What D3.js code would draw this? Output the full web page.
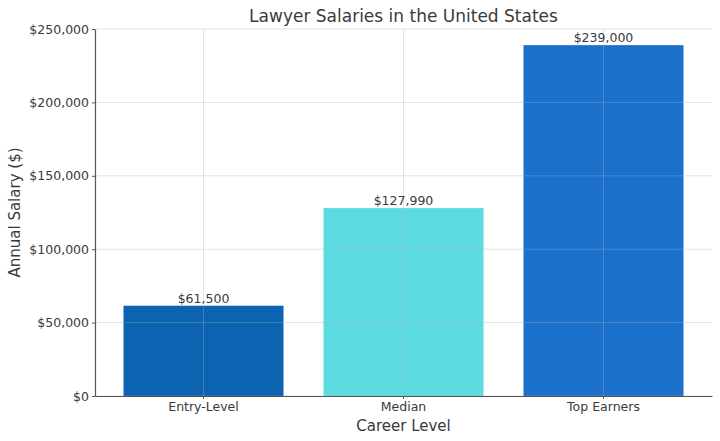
<!DOCTYPE html>
<html>
<head>
<meta charset="utf-8">
<script src="https://cdn.jsdelivr.net/npm/d3@7"></script>
<style>
  body { margin: 0; background: #fff; }
  text { font-family: "DejaVu Sans", sans-serif; fill: #3a3a3a; }
</style>
</head>
<body>
<div id="chart"></div>
<script>
var categories = ["Entry-Level", "Median", "Top Earners"];
var salaries = [61500, 127990, 239000];
var barColors = ["#0b63b1", "#5cdce1", "#1b70cc"];
var yTicks = [0, 50000, 100000, 150000, 200000, 250000];

var svgWidth = 720;
var svgHeight = 441;

var margin = { top: 29, right: 8, bottom: 45, left: 95 };
var width = svgWidth - margin.left - margin.right;
var height = svgHeight - margin.top - margin.bottom;

var svg = d3.select("#chart")
    .append("svg")
    .attr("width", svgWidth)
    .attr("height", svgHeight);

var chartGroup = svg.append("g")
    .attr("transform", `translate(${margin.left}, ${margin.top})`);

var xScale = d3.scaleBand()
    .domain(categories)
    .range([0, width])
    .paddingInner(0.2)
    .paddingOuter(0.1425);

var yScale = d3.scaleLinear()
    .domain([0, 250000])
    .range([height, 0]);

var money = d => "$" + d3.format(",")(d);

// bars first, grid drawn over them like the original
chartGroup.selectAll(".bar")
    .data(salaries)
    .enter()
    .append("rect")
    .attr("class", "bar")
    .attr("x", (d, i) => xScale(categories[i]))
    .attr("y", d => yScale(d))
    .attr("width", xScale.bandwidth())
    .attr("height", d => height - yScale(d))
    .attr("fill", (d, i) => barColors[i]);

// grid
chartGroup.selectAll(".hgrid")
    .data(yTicks)
    .enter()
    .append("line")
    .attr("x1", 0)
    .attr("x2", width)
    .attr("y1", d => yScale(d))
    .attr("y2", d => yScale(d))
    .attr("stroke", "#b0b0b0")
    .attr("stroke-opacity", 0.35)
    .attr("stroke-width", 1);

chartGroup.selectAll(".vgrid")
    .data(categories)
    .enter()
    .append("line")
    .attr("x1", d => xScale(d) + xScale.bandwidth() / 2)
    .attr("x2", d => xScale(d) + xScale.bandwidth() / 2)
    .attr("y1", 0)
    .attr("y2", height)
    .attr("stroke", "#b0b0b0")
    .attr("stroke-opacity", 0.35)
    .attr("stroke-width", 1);

// axes
var bottomAxis = d3.axisBottom(xScale).tickSize(3).tickSizeOuter(0);
var leftAxis = d3.axisLeft(yScale).tickValues(yTicks).tickFormat(money).tickSize(3).tickSizeOuter(0);

var xAxisG = chartGroup.append("g")
    .attr("transform", `translate(0, ${height})`)
    .call(bottomAxis);
var yAxisG = chartGroup.append("g")
    .call(leftAxis);

[xAxisG, yAxisG].forEach(function(g) {
    g.select(".domain").attr("stroke", "#555").attr("stroke-width", 1.2);
    g.selectAll(".tick line").attr("stroke", "#555");
    g.selectAll(".tick text").attr("font-size", 12.5).attr("fill", "#3a3a3a")
        .style("font-family", "'DejaVu Sans', sans-serif");
});
yAxisG.selectAll(".tick text").attr("x", -6);
xAxisG.selectAll(".tick text").attr("y", 6);

// value labels
chartGroup.selectAll(".val")
    .data(salaries)
    .enter()
    .append("text")
    .attr("x", (d, i) => xScale(categories[i]) + xScale.bandwidth() / 2)
    .attr("y", d => yScale(d) - 3)
    .attr("text-anchor", "middle")
    .attr("font-size", 12.5)
    .text(d => money(d));

// titles
svg.append("text")
    .attr("x", margin.left + width / 2)
    .attr("y", 22)
    .attr("text-anchor", "middle")
    .attr("font-size", 17)
    .text("Lawyer Salaries in the United States");

svg.append("text")
    .attr("x", margin.left + width / 2)
    .attr("y", 431)
    .attr("text-anchor", "middle")
    .attr("font-size", 15)
    .text("Career Level");

svg.append("text")
    .attr("transform", "rotate(-90)")
    .attr("x", -(margin.top + height / 2))
    .attr("y", 20)
    .attr("text-anchor", "middle")
    .attr("font-size", 15)
    .text("Annual Salary ($)");
</script>
</body>
</html>
